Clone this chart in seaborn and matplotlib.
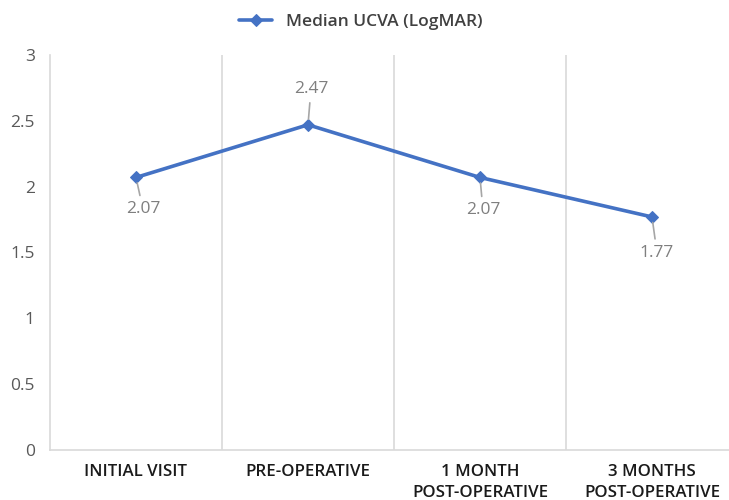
import matplotlib
matplotlib.use("Agg")
import matplotlib.pyplot as plt
import seaborn as sns
import pandas as pd

# Visit time points and median uncorrected visual acuity (LogMAR)
visits = ["INITIAL VISIT", "PRE-OPERATIVE", "1 MONTH\nPOST-OPERATIVE", "3 MONTHS\nPOST-OPERATIVE"]
median_ucva = [2.07, 2.47, 2.07, 1.77]
y_ticks = [0, 0.5, 1, 1.5, 2, 2.5, 3]
y_tick_labels = ["0", "0.5", "1", "1.5", "2", "2.5", "3"]
series_name = "Median UCVA (LogMAR)"

# Data-label offsets (pixels) relative to each point
label_offsets = [(7, -32), (3, 36), (3, -33), (5, -36)]

sns.set_style("white")
plt.rcParams["font.family"] = ["Open Sans", "DejaVu Sans"]

df = pd.DataFrame({"visit": range(len(visits)), "ucva": median_ucva})

fig = plt.figure(figsize=(7.29, 5.0), dpi=100)
ax = fig.add_axes([50 / 729, 0.10, 688 / 729, 0.79])

line_color = "#4472C4"
sns.lineplot(data=df, x="visit", y="ucva", ax=ax, color=line_color, linewidth=2.6,
             marker="D", markersize=6, markeredgecolor=line_color, label=series_name,
             legend=False)

ax.set_xlim(-0.5, len(visits) - 0.5)
ax.set_ylim(0, 3)
ax.set_yticks(y_ticks)
ax.set_yticklabels(y_tick_labels, color="#595959", fontsize=12.5)
ax.set_xticks(range(len(visits)))
ax.set_xticklabels(visits, color="#1a1a1a", fontsize=12.2, fontweight="semibold",
                   linespacing=1.45)
ax.set_xticks([i + 0.5 for i in range(len(visits) - 1)], minor=True)
ax.tick_params(axis="y", length=0, pad=11)
ax.tick_params(axis="x", which="both", length=0, pad=10)
ax.grid(False)
ax.xaxis.grid(True, which="minor", color="#d9d9d9", linewidth=1.2)
ax.set_xlabel("")
ax.set_ylabel("")

for side in ["top", "right"]:
    ax.spines[side].set_visible(False)
for side in ["left", "bottom"]:
    ax.spines[side].set_color("#d9d9d9")
    ax.spines[side].set_linewidth(1.2)

# Value labels with leader lines
for i, (val, (dx, dy)) in enumerate(zip(median_ucva, label_offsets)):
    ax.annotate(f"{val:.2f}", xy=(i, val), xytext=(dx, dy), textcoords="offset pixels",
                ha="center", va="center", fontsize=12.5, color="#7f7f7f",
                arrowprops=dict(arrowstyle="-", color="#a6a6a6", lw=1.2,
                                shrinkA=2, shrinkB=4))

handles, labels = ax.get_legend_handles_labels()
if not handles:
    from matplotlib.lines import Line2D
    handles = [Line2D([0], [0], color=line_color, lw=2.6, marker="D", markersize=6)]
    labels = [series_name]
leg = fig.legend(handles, labels, loc="center", bbox_to_anchor=(0.495, 0.956),
                 frameon=False, fontsize=12.5, handlelength=1.9)
for t in leg.get_texts():
    t.set_color("#404040")
    t.set_fontweight("semibold")

fig.savefig("out.png", dpi=100)
